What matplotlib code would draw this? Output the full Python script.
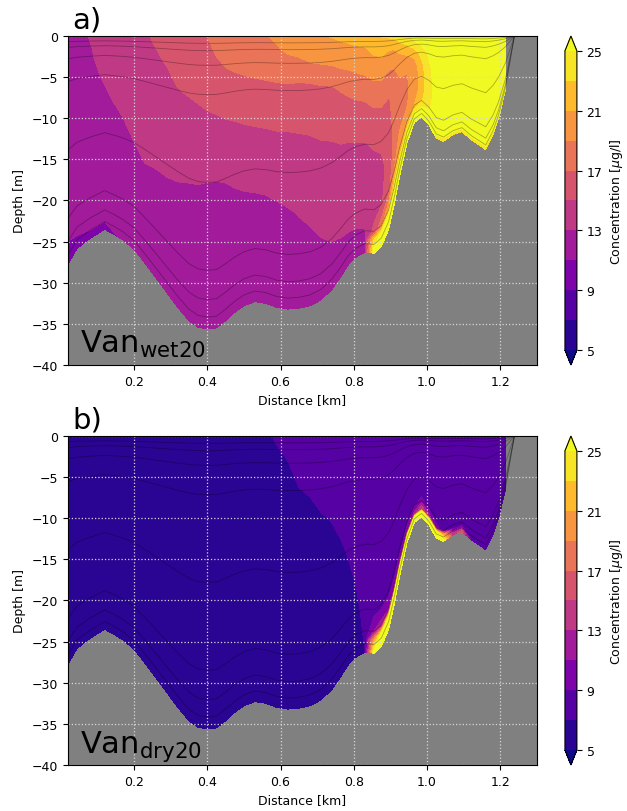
import numpy as np
import matplotlib
matplotlib.use('Agg')
import matplotlib.pyplot as plt

# along-section distance of each model column [km] and its bottom depth [m]
distance_km = [0.02, 0.045, 0.08, 0.12, 0.145, 0.17, 0.2, 0.23, 0.26, 0.29,
               0.32, 0.35, 0.375, 0.40, 0.425, 0.45, 0.475, 0.50, 0.53, 0.56,
               0.59, 0.62, 0.65, 0.68, 0.71, 0.74, 0.765, 0.785, 0.805, 0.83,
               0.855, 0.875, 0.895, 0.91, 0.925, 0.945, 0.965, 0.985, 1.005, 1.025,
               1.045, 1.07, 1.095, 1.12, 1.16, 1.18, 1.195, 1.214, 1.238]
bottom_depth = [-27.7, -25.8, -24.6, -23.5, -24.1, -24.8, -25.9, -27.6, -29.4, -31.2,
                -33.0, -34.6, -35.4, -35.6, -35.5, -34.6, -33.6, -32.8, -32.3, -32.5,
                -33.0, -33.2, -33.1, -32.8, -32.1, -30.8, -29.2, -27.8, -26.9, -26.3,
                -26.4, -25.6, -23.5, -20.5, -17.0, -13.0, -10.5, -9.8, -10.8, -12.4,
                -12.8, -12.0, -11.6, -12.6, -13.8, -12.0, -10.0, -6.5, -0.1]

# terrain-following levels (fraction of local depth) where the field is stored
sigma = [0.0, 0.05, 0.1, 0.2, 0.35, 0.5, 0.65, 0.8, 0.9, 0.94, 1.0]
# sigma levels drawn as thin lines
sigma_lines = [0.025, 0.05, 0.1, 0.2, 0.5, 0.8, 0.9, 0.96]

# concentration [ug/l], one row per water column (surface -> bottom)
basin_wet = [26.5, 26.5, 26.5, 26.5, 26.5, 26.5, 26.5, 26.3, 26.0, 25.4, 24.6]
conc_wet = [
    [12.6, 12.5, 12.5, 12.4, 12.3, 12.2, 12.0, 11.6, 11.0, 10.6, 10.0],
    [12.7, 12.6, 12.6, 12.5, 12.4, 12.3, 12.1, 11.8, 11.3, 11.0, 10.3],
    [13.05, 12.95, 12.9, 12.8, 12.6, 12.45, 12.3, 12.1, 11.6, 11.2, 10.6],
    [13.5, 13.4, 13.3, 13.1, 12.8, 12.5, 12.3, 12.1, 11.8, 11.2, 10.6],
    [13.85, 13.75, 13.6, 13.4, 12.97, 12.65, 12.4, 12.2, 12.0, 11.5, 10.9],
    [14.1, 14.0, 13.9, 13.6, 13.1, 12.8, 12.5, 12.3, 12.1, 11.8, 11.1],
    [14.5, 14.4, 14.3, 14.0, 13.5, 12.98, 12.6, 12.3, 12.1, 12.0, 11.8],
    [14.85, 14.75, 14.6, 14.3, 13.7, 13.2, 12.7, 12.4, 12.2, 12.1, 12.0],
    [15.2, 15.0, 14.8, 14.4, 13.7, 13.15, 12.7, 12.4, 12.2, 12.1, 12.0],
    [15.6, 15.4, 15.1, 14.6, 13.9, 13.15, 12.7, 12.4, 12.2, 12.1, 12.0],
    [15.95, 15.75, 15.5, 14.95, 14.0, 13.1, 12.7, 12.4, 12.2, 12.1, 12.0],
    [16.4, 16.0, 15.7, 15.1, 14.0, 13.05, 12.6, 12.4, 12.2, 12.1, 12.0],
    [16.7, 16.2, 15.85, 15.25, 14.1, 13.03, 12.6, 12.4, 12.2, 12.1, 12.0],
    [17.0, 16.6, 16.1, 15.45, 14.2, 13.0, 12.6, 12.4, 12.2, 12.1, 12.0],
    [17.3, 17.2, 16.7, 15.6, 14.3, 12.99, 12.6, 12.4, 12.2, 12.1, 12.0],
    [17.6, 17.4, 17.1, 16.1, 14.3, 13.05, 12.6, 12.4, 12.2, 12.1, 12.0],
    [17.9, 17.6, 17.3, 16.3, 14.5, 13.2, 12.6, 12.4, 12.2, 12.1, 12.0],
    [18.2, 17.9, 17.5, 16.4, 14.75, 13.4, 12.6, 12.4, 12.2, 12.1, 12.0],
    [18.6, 18.2, 17.7, 16.5, 14.9, 13.6, 12.6, 12.4, 12.2, 12.1, 12.0],
    [18.9, 18.45, 17.85, 16.55, 14.95, 13.7, 12.6, 12.4, 12.2, 12.1, 12.0],
    [19.3, 18.8, 18.1, 16.55, 15.0, 13.8, 12.7, 12.4, 12.2, 12.1, 12.0],
    [19.7, 19.3, 18.4, 16.5, 15.0, 13.9, 12.85, 12.5, 12.3, 12.2, 12.1],
    [20.1, 19.6, 18.5, 16.4, 15.05, 14.1, 13.05, 12.55, 12.3, 12.2, 12.1],
    [20.5, 19.95, 18.95, 16.35, 15.1, 14.25, 13.2, 12.65, 12.4, 12.3, 12.2],
    [20.9, 20.2, 19.15, 16.7, 15.25, 14.4, 13.45, 12.85, 12.5, 12.35, 12.25],
    [21.1, 20.4, 19.4, 16.95, 15.35, 14.55, 13.8, 13.05, 12.6, 12.4, 12.3],
    [21.3, 20.6, 19.85, 17.4, 15.6, 14.7, 14.0, 13.2, 12.7, 12.45, 12.35],
    [21.45, 20.75, 20.05, 17.9, 15.8, 14.75, 14.05, 13.35, 12.75, 12.5, 12.4],
    [21.65, 20.9, 20.2, 18.35, 16.05, 14.85, 14.15, 13.45, 12.8, 12.55, 12.45],
    [22.0, 21.0, 20.3, 18.7, 16.2, 14.95, 14.3, 13.6, 12.95, 12.6, 12.5],
    [22.7, 21.6, 20.8, 19.1, 16.7, 15.1, 14.5, 14.2, 15.5, 23.0, 26.5],
    [23.1, 22.2, 21.0, 19.2, 16.8, 15.2, 14.7, 14.8, 18.0, 25.5, 26.5],
    [23.3, 21.6, 20.4, 18.6, 16.6, 15.6, 15.3, 16.0, 21.0, 26.3, 26.5],
    [23.6, 21.8, 20.5, 18.9, 18.0, 17.8, 17.6, 19.0, 24.0, 26.4, 26.5],
    [24.0, 22.8, 21.5, 19.6, 18.7, 18.6, 18.8, 20.0, 24.5, 26.4, 26.5],
    [24.6, 23.8, 22.6, 20.6, 19.0, 18.8, 18.9, 20.0, 24.5, 26.4, 26.5],
    [25.4, 25.0, 24.0, 21.8, 19.8, 19.5, 19.8, 21.0, 25.2, 26.4, 26.5],
    [25.8, 25.6, 25.2, 23.8, 22.5, 22.0, 22.0, 22.8, 25.5, 26.4, 26.5],
    [26.2, 26.0, 25.8, 25.3, 24.6, 24.3, 24.4, 24.8, 25.6, 26.0, 26.0],
    [26.5, 26.5, 26.4, 26.2, 25.9, 25.7, 25.7, 25.8, 25.8, 25.4, 24.6],
] + [basin_wet] * 8

conc_dry = [[6.0] * 11] * 19 + [
    [6.7, 6.4, 6.2, 6.1, 6.0, 6.0, 6.0, 6.0, 6.0, 6.0, 6.0],
    [7.2, 6.9, 6.6, 6.3, 6.1, 6.0, 6.0, 6.0, 6.0, 6.0, 6.0],
    [7.5, 7.25, 6.95, 6.55, 6.2, 6.05, 6.0, 6.0, 6.0, 6.0, 6.0],
    [7.8, 7.6, 7.4, 6.95, 6.4, 6.1, 6.0, 6.0, 6.0, 6.0, 6.0],
    [7.95, 7.85, 7.7, 7.1, 6.5, 6.15, 6.0, 6.0, 6.0, 6.0, 6.0],
    [8.0, 7.95, 7.8, 7.35, 6.75, 6.3, 6.1, 6.0, 6.0, 6.0, 6.0],
    [8.0, 8.0, 7.9, 7.55, 6.97, 6.5, 6.2, 6.05, 6.0, 6.0, 6.0],
    [8.0, 8.0, 8.0, 7.8, 7.3, 6.75, 6.4, 6.2, 6.1, 6.0, 6.0],
    [8.0, 8.0, 8.0, 7.9, 7.55, 7.1, 6.7, 6.4, 6.2, 6.1, 6.1],
    [8.0, 8.0, 8.0, 8.0, 7.8, 7.45, 7.05, 6.6, 6.35, 6.25, 6.2],
    [8.0, 8.0, 8.0, 8.0, 7.9, 7.8, 7.6, 7.4, 7.2, 7.1, 7.0],
    [8.0, 8.0, 8.0, 8.0, 8.0, 8.0, 8.0, 8.0, 11.0, 20.0, 26.5],
    [8.0, 8.0, 8.0, 8.0, 8.0, 8.0, 8.0, 8.2, 12.0, 25.5, 26.5],
    [8.0, 8.0, 8.0, 8.0, 8.0, 8.0, 8.0, 8.0, 11.0, 26.0, 26.5],
    [8.0, 8.0, 8.0, 8.0, 8.0, 8.0, 8.0, 8.0, 10.0, 26.0, 26.5],
    [8.0, 8.0, 8.0, 8.0, 8.0, 8.0, 8.0, 8.0, 10.0, 26.0, 26.5],
    [8.0, 8.0, 8.0, 8.0, 8.0, 8.0, 8.0, 8.2, 10.5, 26.0, 26.5],
    [8.0, 8.0, 8.0, 8.0, 8.0, 8.0, 8.0, 8.5, 12.0, 26.2, 26.5],
    [8.0, 8.0, 8.0, 8.0, 8.0, 8.0, 8.0, 9.5, 15.0, 26.3, 26.5],
    [8.0, 8.0, 8.0, 8.0, 8.0, 8.0, 8.0, 8.3, 12.0, 26.0, 26.5],
    [8.0, 8.0, 8.0, 8.0, 8.0, 8.0, 8.0, 8.0, 9.5, 25.0, 26.5],
    [8.0, 8.0, 8.0, 8.0, 8.0, 8.0, 8.0, 8.0, 8.5, 21.0, 26.0],
    [8.0, 8.0, 8.0, 8.0, 8.0, 8.0, 8.0, 8.0, 8.0, 9.0, 14.0],
    [8.0, 8.0, 8.0, 8.0, 8.0, 8.0, 8.0, 8.0, 8.0, 9.0, 16.0],
    [8.0, 8.0, 8.0, 8.0, 8.0, 8.0, 8.0, 8.0, 8.0, 8.0, 8.5],
] + [[8.0] * 11] * 4

levels = np.arange(5, 27, 2)
cbar_ticks = [5, 9, 13, 17, 21, 25]
panels = [('a)', 'Van$_{\\mathrm{wet20}}$', conc_wet),
          ('b)', 'Van$_{\\mathrm{dry20}}$', conc_dry)]

x = np.array(distance_km)
h = np.array(bottom_depth)
s = np.array(sigma)
X = np.tile(x, (len(s), 1))
Z = s[:, None] * h[None, :]

fig = plt.figure(figsize=(6.27, 8.12), dpi=100)
ax_boxes = [[0.1085, 0.5493, 0.748, 0.4051], [0.1085, 0.0567, 0.748, 0.4051]]
cax_boxes = [[0.901, 0.5493, 0.0191, 0.4051], [0.901, 0.0567, 0.0191, 0.4051]]

for (tag, name, conc), box, cbox in zip(panels, ax_boxes, cax_boxes):
    ax = fig.add_axes(box)
    ax.set_facecolor('#808080')   # land / below the bottom
    C = np.array(conc).T
    n = C.shape[1]
    cf = ax.contourf(X[:, :n], Z[:, :n], C, levels=levels, cmap='plasma',
                     extend='both')
    for sl in sigma_lines:
        ax.plot(x, sl * h, color='k', lw=0.6, alpha=0.3)

    ax.set_xlim(0.02, 1.30)
    ax.set_ylim(-40, 0)
    ax.set_xticks([0.2, 0.4, 0.6, 0.8, 1.0, 1.2])
    ax.set_yticks(np.arange(-40, 1, 5))
    ax.tick_params(labelsize=9)
    ax.grid(True, linestyle=':', color='#d8d8d8', lw=0.9)
    ax.set_xlabel('Distance [km]', fontsize=9)
    ax.set_ylabel('Depth [m]', fontsize=9)

    ax.text(0.01, 1.027, tag, transform=ax.transAxes, fontsize=21,
            va='baseline', ha='left')
    ax.text(0.026, 0.04, name, transform=ax.transAxes, fontsize=22,
            va='baseline', ha='left')

    cax = fig.add_axes(cbox)
    cb = fig.colorbar(cf, cax=cax, ticks=cbar_ticks)
    cb.ax.tick_params(labelsize=9)
    cb.set_label('Concentration [$\\mu$g/l]', fontsize=9)

fig.savefig('out.png', dpi=100)
